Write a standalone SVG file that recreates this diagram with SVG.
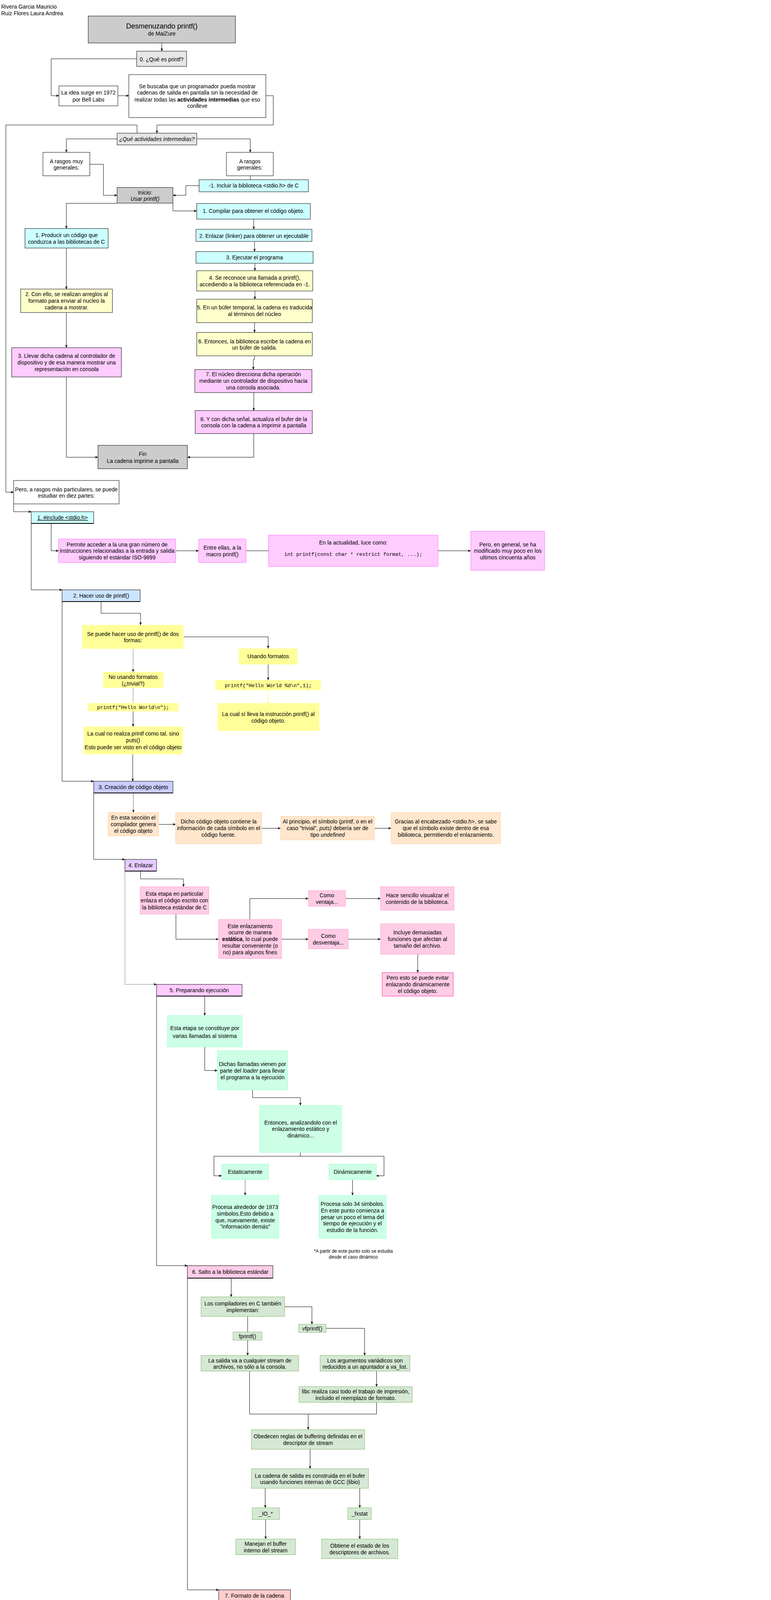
<svg xmlns="http://www.w3.org/2000/svg" width="1975" height="6702" viewBox="0 0 1975 6702">
<defs>
<style>
.t{font-family:"Liberation Sans",Arial,Helvetica,sans-serif;font-size:14px;fill:#000;text-anchor:middle}
.m{font-family:"Liberation Mono","Courier New",monospace;font-size:12.8px;fill:#000;text-anchor:middle}
.k{stroke:#000;stroke-width:1}
.c{fill:none;stroke:#000;stroke-width:1;marker-end:url(#a)}
.n{fill:none;stroke:#000;stroke-width:1}
.cy{fill:#ccffff}.ye{fill:#ffffcc}.pk{fill:#ffccff}.gr{fill:#cccccc}.lg{fill:#e6e6e6}
.p1{fill:#ffccff;stroke:#ff66ff;stroke-width:1}
.y2{fill:#ffff99}
.o3{fill:#ffe6cc;stroke:#ffcc99;stroke-width:1}
.p4{fill:#ffcce6;stroke:#ff99cc;stroke-width:1}
.g5{fill:#ccffe6;stroke:#99ffcc;stroke-width:1}
.g6{fill:#d5e8d4;stroke:#82b366;stroke-width:1}
.b7{fill:#b0e3e6;stroke:#0e8088;stroke-width:1}
.v8{fill:#d0cee2;stroke:#56517e;stroke-width:1}
.o9{fill:#fad7ac;stroke:#b46504;stroke-width:1}
.y10{fill:#ffff88;stroke:#36393d;stroke-width:1}
.r11{fill:#f8cecc;stroke:#b85450;stroke-width:1}
</style>
<marker id="a" viewBox="0 0 10 10" refX="9.5" refY="5" markerWidth="8" markerHeight="8" markerUnits="userSpaceOnUse" orient="auto"><path d="M0,1 L10,5 L0,9 L3,5 Z" fill="#000"/></marker>
<marker id="ay" viewBox="0 0 10 10" refX="9.5" refY="5" markerWidth="8" markerHeight="8" markerUnits="userSpaceOnUse" orient="auto"><path d="M0,1 L10,5 L0,9 L3,5 Z" fill="#ffff66"/></marker>
</defs>
<rect x="0" y="0" width="1975" height="6702" fill="#ffffff"/>

<g id="authors">
<text class="t" style="text-anchor:start" x="3" y="22">Rivera Garcia Mauricio</text>
<text class="t" style="text-anchor:start" x="3" y="39">Ruiz Flores Laura Andrea</text>
</g>

<g id="connectors">
<path class="c" d="M414.5,110 V131"/>
<path class="c" d="M350,150.5 H131 V245 H151"/>
<path class="c" d="M302,245 H330"/>
<path class="c" d="M681,245 H700 V320 H402 V341"/>
<path class="c" d="M351,341 V320 H15 V1260 H35"/>
<path class="c" d="M300,355.5 H170 V390"/>
<path class="c" d="M504,355.5 H641 V390"/>
<path class="c" d="M230,420.6 H265 V500 H300"/>
<path class="n" d="M641,450 V460"/>
<path class="c" d="M510,475.3 H476 V500 H443"/>
<path class="c" d="M300,520.5 H170 V585"/>
<path class="c" d="M443,520.5 V540 H504"/>
<path class="c" d="M650,561 V587"/>
<path class="c" d="M652,618 V644"/>
<path class="c" d="M653,674.5 V693"/>
<path class="c" d="M653,745 V766"/>
<path class="c" d="M652,826 V851"/>
<path class="c" d="M652,911 V920 H649 V946"/>
<path class="c" d="M650,1005 V1051"/>
<path class="c" d="M650,1110 V1170.5 H480"/>
<path class="c" d="M170,635.5 V740"/>
<path class="c" d="M170,800.4 V890"/>
<path class="c" d="M170,965.4 V1170.5 H251"/>

<path class="c" d="M35,1290 V1310 H80"/>
<path class="c" d="M131,1340 V1410 H150"/>
<path class="c" d="M450,1410 H509"/>
<path class="n" d="M630,1410 H688"/>
<path class="c" d="M1122,1410 H1206"/>
<path class="c" d="M80,1340 V1510 H159"/>

<path class="c" d="M259,1540 V1570 H360 V1600"/>
<path class="c" d="M471,1630.4 H687 V1660"/>
<path class="c" style="stroke:#808080" d="M341,1661 V1720"/>
<path class="c" d="M687,1701 V1741"/>
<path d="M687,1767 V1800" style="fill:none;stroke:#ffff66;stroke-width:1;marker-end:url(#ay)"/>
<path d="M341,1761 V1800" style="fill:none;stroke:#808080;stroke-width:1;marker-end:url(#ay)"/>
<path class="c" d="M341,1821 V1860"/>
<path class="c" d="M340,1931 V2000"/>
<path class="c" d="M159,1540 V2000 H240"/>

<path class="c" style="stroke:#666666" d="M341.6,2030 V2080"/>
<path class="c" d="M406.7,2110.4 H450"/>
<path class="c" d="M670,2120.4 H719"/>
<path class="c" d="M959,2120.4 H1002"/>
<path class="c" d="M240,2030 V2200 H320"/>

<path class="c" d="M360,2230 V2250 H470 V2270"/>
<path class="c" d="M450.7,2340 V2404.3 H560"/>
<path class="c" d="M640,2354 V2300.3 H790"/>
<path class="c" d="M885,2300.3 H975"/>
<path class="c" d="M721,2404.3 H790"/>
<path class="c" d="M892,2404.3 H975"/>
<path class="c" d="M1070,2443 V2490"/>
<path class="c" style="stroke:#808080" d="M320,2230 V2520 H401"/>

<path class="c" d="M524.4,2550 V2600"/>
<path class="c" d="M524.4,2680 V2740.5 H557"/>
<path class="c" d="M647,2790 V2810 H769.4 V2830"/>
<path class="n" d="M769.4,2950 V2960"/>
<path class="c" d="M769.4,2960 H548 V3010 H568"/>
<path class="c" d="M769.4,2960 H983.7 V3010 H963.6"/>
<path class="c" style="stroke:#555555" d="M628,3020 V3060"/>
<path class="c" d="M903,3020 V3060"/>
<path class="c" d="M401,2550 V3240 H480"/>

<path class="c" d="M592.3,3272.7 V3320"/>
<path class="c" d="M729,3345.4 H799 V3390"/>
<path class="n" d="M634.4,3370.5 V3410"/>
<path class="c" d="M834.4,3400.5 H934 V3470"/>
<path class="c" d="M634.4,3431 V3470"/>
<path class="c" d="M964.6,3510.7 V3550"/>
<path class="n" d="M639.2,3510.7 V3620 H964.6 V3590"/>
<path class="c" d="M789.5,3620 V3660"/>
<path class="c" d="M794.3,3710 V3760"/>
<path class="c" d="M679.4,3810 V3860"/>
<path class="c" d="M921.5,3810 V3860"/>
<path class="c" d="M680.4,3890 V3940"/>
<path class="c" d="M921.5,3890 V3940"/>
<path class="c" d="M480,3272.7 V4070 H560"/>

<path class="c" d="M652.6,4100 V4125 H841 V4150"/>
<path class="c" d="M786.6,4185 V4200 H695.7 V4240"/>
<path class="c" d="M841,4185 V4240"/>
<path class="c" d="M897.6,4185 V4207.7 H994.3 V4230"/>
<path class="c" d="M703,4260.8 V4290"/>
<path class="c" d="M840,4260.8 V4290"/>
<path class="c" d="M994.3,4250.6 V4290"/>
<path class="c" d="M840,4320.8 V4340"/>
<path class="c" d="M838,4370.6 V4390"/>
<path class="c" d="M838,4420.7 V4440"/>
<path class="c" d="M836.4,4470.5 V4490"/>
<path class="c" d="M703,4320.8 V4575.4 H767.5"/>
<path class="c" d="M994.3,4320.8 V4575.4 H905.3"/>
<path class="c" d="M836.4,4590.3 V4610"/>
<path class="c" d="M905.3,4625 H986"/>
<path class="c" d="M836.4,4640 V4660.5"/>
<path class="c" d="M836.4,4690.3 V4710"/>
<path class="c" d="M940,4725 H1020"/>
<path class="c" d="M560,4100 V4830 H640"/>

<path class="c" d="M740.7,4860 V4890 H870 V4920"/>
<path class="c" d="M890,4980.4 V5010"/>
<path class="c" d="M1057.4,5040.4 H1110"/>
<path class="c" d="M1407,5040.4 H1440"/>
<path class="c" d="M890,5070 V5110"/>
<path class="c" d="M890,5160.5 V5200"/>
<path class="c" d="M1060.3,5225.6 H1132"/>
<path class="c" d="M640,4860.4 V5350 H719"/>

<path class="c" d="M841,5390 V5430 H945.5 V5470"/>
<path class="c" d="M1121.5,5490 H1190"/>
<path class="c" d="M1510.6,5490 H1570"/>
<path class="c" d="M1719.5,5490 H1821.5"/>
<path class="c" d="M1645,5510 V5550"/>
<path class="c" d="M945.5,5510 V5590"/>
<path class="c" d="M945.5,5630 V5671"/>
<path class="c" d="M1121,5690 H1201"/>
<path class="c" d="M945.3,5710 V5761"/>
<path class="c" d="M1016.4,5780.6 H1201"/>
<path class="c" d="M719,5390 V5870 H803"/>

<path class="c" d="M943,5900 V5926 H1062 V5950"/>
<path class="c" d="M1062,5980.5 V6031"/>
<path class="c" d="M1256.3,6045.5 H1310"/>
<path class="c" d="M1062,6061 V6100"/>
<path class="c" d="M1256.3,6115.5 H1310"/>
<path class="c" d="M1062,6130.5 V6170"/>
<path class="c" d="M1062,6200.2 V6240"/>
<path class="c" d="M1062,6280.4 V6295 H1064 V6310"/>
<path class="c" d="M1260,6335.2 H1310"/>
<path class="c" d="M1063.4,6360.6 V6411"/>
<path class="c" d="M803,5900 V6510.5 H884"/>

<path class="c" d="M994.4,6540.5 V6581"/>
<path class="c" d="M994.4,6611 V6651"/>
</g>

<g id="n-title"><rect x="226" y="41" width="377" height="69" class="gr k"/>
<text class="t" x="414.5" y="72.5" style="font-size:18px">Desmenuzando printf()</text>
<text class="t" x="414.5" y="91">de MaiZure</text></g>
<g id="n-q0"><rect x="350" y="131" width="128" height="39" class="lg k"/>
<text class="t" x="414" y="156.5">0. ¿Qué es printf?</text></g>
<g id="n-idea"><rect x="151" y="220" width="151" height="51" fill="#fff" class="k"/>
<text class="t"><tspan x="226.5" y="242">La idea surge en 1972</tspan><tspan x="226.5" y="259.5">por Bell Labs</tspan></text></g>
<g id="n-busca"><rect x="330" y="191" width="351" height="110" fill="#fff" class="k"/>
<text class="t"><tspan x="505.5" y="226">Se buscaba que un programador pueda mostrar</tspan><tspan x="505.5" y="242">cadenas de salida en pantalla sin la necesidad de</tspan><tspan x="505.5" y="259.5">realizar todas las </tspan><tspan font-weight="bold">actividades intermedias</tspan><tspan> que eso</tspan><tspan x="505.5" y="275.6">conlleve</tspan></text></g>
<g id="n-qact"><rect x="300" y="341" width="204" height="30" class="lg k"/>
<text class="t" x="402" y="360.5" font-style="italic">¿Qué actividades intermedias?</text></g>
<g id="n-muy"><rect x="110" y="390" width="120" height="60" fill="#fff" class="k"/>
<text class="t"><tspan x="170" y="417.5">A rasgos muy</tspan><tspan x="170" y="434">generales:</tspan></text></g>
<g id="n-gen"><rect x="580" y="390" width="120" height="60" fill="#fff" class="k"/>
<text class="t"><tspan x="640" y="417.5">A rasgos</tspan><tspan x="640" y="434">generales:</tspan></text></g>
<g id="n-inicio"><rect x="300" y="480" width="143" height="40" class="gr k"/>
<text class="t"><tspan x="371.5" y="497.5">Inicio:</tspan><tspan x="371.5" y="514" font-style="italic">Usar printf()</tspan></text></g>
<g id="n-m1"><rect x="510" y="460" width="280" height="31" class="cy k"/>
<text class="t" x="650" y="480.3">-1. Incluir la biblioteca &lt;stdio.h&gt; de C</text></g>
<g id="n-comp"><rect x="504" y="521" width="291" height="40" class="cy k"/>
<text class="t" x="649.5" y="545">1. Compilar para obtener el código objeto.</text></g>
<g id="n-prod"><rect x="64" y="585" width="213" height="50" class="cy k"/>
<text class="t"><tspan x="170.5" y="607">1. Producir un código que</tspan><tspan x="170.5" y="623.7">conduzca a las bibliotecas de C</tspan></text></g>
<g id="n-enl"><rect x="502" y="587" width="297" height="31" class="cy" stroke="#808080" stroke-width="2"/>
<text class="t" x="650.5" y="608.7">2. Enlazar (linker) para obtener un ejecutable</text></g>
<g id="n-ejec"><rect x="502" y="644" width="300" height="30" class="cy k"/>
<text class="t" x="652" y="664">3. Ejecutar el programa</text></g>
<g id="n-s4"><rect x="504" y="693" width="297" height="52" class="ye k"/>
<text class="t"><tspan x="652.5" y="716">4. Se reconoce una llamada a printf(),</tspan><tspan x="652.5" y="733">accediendo a la biblioteca referenciada en -1.</tspan></text></g>
<g id="n-s5"><rect x="504" y="766" width="296" height="60" class="ye k"/>
<text class="t"><tspan x="652" y="792.4">5. En un búfer temporal, la cadena es traducida</tspan><tspan x="652" y="809">al términos del núcleo</tspan></text></g>
<g id="n-s6"><rect x="504" y="851" width="296" height="60" class="ye k"/>
<text class="t"><tspan x="652" y="878.5">6. Entonces, la biblioteca escribe la cadena en</tspan><tspan x="652" y="895">un búfer de salida.</tspan></text></g>
<g id="n-s7"><rect x="499" y="946" width="300" height="59" class="pk k"/>
<text class="t"><tspan x="649" y="963">7. El núcleo direcciona dicha operación</tspan><tspan x="649" y="980">mediante un controlador de dispositivo hacia</tspan><tspan x="649" y="997">una consola asociada.</tspan></text></g>
<g id="n-s8"><rect x="500" y="1051" width="300" height="59" class="pk k"/>
<text class="t"><tspan x="650" y="1077.5">8. Y con dicha señal, actualiza el bufer de la</tspan><tspan x="650" y="1094">consola con la cadena a imprimir a pantalla</tspan></text></g>
<g id="n-con"><rect x="53" y="740" width="235" height="60" class="ye k"/>
<text class="t"><tspan x="170.5" y="758.4">2. Con ello, se realizan arreglos al</tspan><tspan x="170.5" y="775.2">formato para enviar al nucleo la</tspan><tspan x="170.5" y="792">cadena a mostrar.</tspan></text></g>
<g id="n-lle"><rect x="30" y="890" width="281" height="75" class="pk k"/>
<text class="t"><tspan x="170.5" y="916.4">3. Llevar dicha cadena al controlador de</tspan><tspan x="170.5" y="933.3">dispositivo y de esa manera mostrar una</tspan><tspan x="170.5" y="950">representación en consola</tspan></text></g>
<g id="n-fin"><rect x="251" y="1140" width="229" height="60" class="gr k"/>
<text class="t"><tspan x="365.5" y="1166.7">Fin</tspan><tspan x="365.5" y="1184.6">La cadena imprime a pantalla</tspan></text></g>

<g id="n-pero"><rect x="35" y="1230" width="270" height="60" fill="#fff" class="k"/>
<text class="t"><tspan x="170" y="1258">Pero, a rasgos más particulares, se puede</tspan><tspan x="170" y="1274.3">estudiar en diez partes:</tspan></text></g>
<g id="n-h1"><rect x="80" y="1310" width="160" height="30" class="cy k"/><path d="M80,1340 H240" stroke="#000" stroke-width="2"/>
<text class="t" x="160" y="1330.4" text-decoration="underline">1. #include &lt;stdio.h&gt;</text></g>
<g id="n-perm"><rect x="150" y="1380" width="300" height="60" class="p1"/>
<text class="t"><tspan x="300" y="1398.6">Permite acceder a la una gran número de</tspan><tspan x="300" y="1415.4">instrucciones relacionadas a la entrada y salida</tspan><tspan x="300" y="1432.1">siguiendo el estándar ISO-9899</tspan></text></g>
<g id="n-entre"><rect x="509" y="1380" width="121" height="60" class="p1"/>
<text class="t"><tspan x="569.5" y="1407">Entre ellas, a la</tspan><tspan x="569.5" y="1424.3">macro printf()</tspan></text></g>
<g id="n-actual"><rect x="688" y="1370" width="434" height="80" class="p1"/>
<text class="t" x="905" y="1393.6">En la actualidad, luce como:</text>
<text class="m" x="905" y="1423">int printf(const char * restrict format, ...);</text></g>
<g id="n-general"><rect x="1206" y="1360" width="189" height="100" class="p1"/>
<text class="t"><tspan x="1300.5" y="1398.6">Pero, en general, se ha</tspan><tspan x="1300.5" y="1415.4">modificado muy poco en los</tspan><tspan x="1300.5" y="1432">ultimos cincuenta años</tspan></text></g>

<g id="n-h2"><rect x="159" y="1510" width="200" height="30" fill="#cce5ff" class="k"/><path d="M159,1540 H359" stroke="#000" stroke-width="2"/>
<text class="t" x="259" y="1530.4">2. Hacer uso de printf()</text></g>
<g id="n-dos"><rect x="210" y="1600" width="260" height="61" class="y2"/>
<text class="t"><tspan x="340.5" y="1627.5">Se puede hacer uso de printf() de dos</tspan><tspan x="340.5" y="1644">formas:</tspan></text></g>
<g id="n-usando"><rect x="612" y="1660" width="150" height="41" class="y2"/>
<text class="t" x="687" y="1685">Usando formatos</text></g>
<g id="n-nous"><rect x="264" y="1720" width="154" height="41" class="y2"/>
<text class="t"><tspan x="341" y="1737.5">No usando formatos</tspan><tspan x="341" y="1754.6">(¿trivial?)</tspan></text></g>
<g id="n-pf2"><rect x="552" y="1741" width="270" height="26" class="y2"/>
<text class="m" x="687" y="1758.5">printf("Hello World %d\n",1);</text></g>
<g id="n-sicual"><rect x="557" y="1800" width="261" height="71" class="y2"/>
<text class="t"><tspan x="687.5" y="1833">La cual sí lleva la instrucción printf() al</tspan><tspan x="687.5" y="1849.6">código objeto.</tspan></text></g>
<g id="n-pf1"><rect x="225" y="1800" width="232" height="21" class="y2"/>
<text class="m" x="341" y="1814.5">printf("Hello World\n");</text></g>
<g id="n-nocual"><rect x="214" y="1860" width="254" height="71" class="y2"/>
<text class="t"><tspan x="341" y="1883.2">La cual no realiza printf como tal, sino</tspan><tspan x="341" y="1900.4">puts()</tspan><tspan x="341" y="1917.5">Esto puede ser visto en el código objeto</tspan></text></g>

<g id="n-h3"><rect x="240" y="2000" width="203" height="30" fill="#ccccff" class="k"/><path d="M240,2030 H443" stroke="#000" stroke-width="2"/>
<text class="t" x="341.5" y="2020.4">3. Creación de código objeto</text></g>
<g id="n-esta3"><rect x="277" y="2080" width="129" height="60" class="o3"/>
<text class="t"><tspan x="341.5" y="2098.2">En esta sección el</tspan><tspan x="341.5" y="2115.4">compilador genera</tspan><tspan x="341.5" y="2132">el código objeto</tspan></text></g>
<g id="n-dicho"><rect x="450" y="2080" width="220" height="80" class="o3"/>
<text class="t"><tspan x="560" y="2108.2">Dicho código objeto contiene la</tspan><tspan x="560" y="2125.4">información de cada símbolo en el</tspan><tspan x="560" y="2142">código fuente.</tspan></text></g>
<g id="n-alpri"><rect x="719" y="2090" width="240" height="60" class="o3"/>
<text class="t"><tspan x="839" y="2108.2">Al principio, el símbolo (</tspan><tspan font-style="italic">printf</tspan><tspan>, o en el</tspan><tspan x="839" y="2125.4">caso "trivial", </tspan><tspan font-style="italic">puts)</tspan><tspan> debería ser de</tspan><tspan x="839" y="2142">tipo </tspan><tspan font-style="italic">undefined</tspan></text></g>
<g id="n-gracias"><rect x="1002" y="2080" width="280" height="80" class="o3"/>
<text class="t"><tspan x="1142" y="2108.2">Gracias al encabezado &lt;stdio.h&gt;, se sabe</tspan><tspan x="1142" y="2125.4">que el símbolo existe dentro de esa</tspan><tspan x="1142" y="2142">biblioteca, permitiendo el enlazamiento.</tspan></text></g>

<g id="n-h4"><rect x="320" y="2200" width="81" height="30" fill="#e5ccff" class="k"/><path d="M320,2230 H401" stroke="#000" stroke-width="2"/>
<text class="t" x="360.5" y="2220">4. Enlazar</text></g>
<g id="n-etapa4"><rect x="359" y="2270" width="176" height="70" class="p4"/>
<text class="t"><tspan x="447" y="2293.4">Esta etapa en particular</tspan><tspan x="447" y="2310.4">enlaza el código escrito con</tspan><tspan x="447" y="2327.5">la biblioteca estándar de C</tspan></text></g>
<g id="n-esteenl"><rect x="560" y="2354" width="161" height="100" class="p4"/>
<text class="t"><tspan x="640.5" y="2376.2">Este enlazamiento</tspan><tspan x="640.5" y="2392.2">ocurre de manera</tspan><tspan x="640.5" y="2409.3" font-weight="bold">estática</tspan><tspan>, lo cual puede</tspan><tspan x="640.5" y="2426.4">resultar conveniente (o</tspan><tspan x="640.5" y="2443.1">no) para algunos fines</tspan></text></g>
<g id="n-ventaja"><rect x="790" y="2280" width="95" height="40" class="p4"/>
<text class="t"><tspan x="837.5" y="2297.4">Como</tspan><tspan x="837.5" y="2314">ventaja...</tspan></text></g>
<g id="n-sencillo"><rect x="975" y="2270" width="188" height="60" class="p4"/>
<text class="t"><tspan x="1069" y="2297.4">Hace sencillo visualizar el</tspan><tspan x="1069" y="2314">contenido de la biblioteca.</tspan></text></g>
<g id="n-desv"><rect x="790" y="2379" width="102" height="50" class="p4"/>
<text class="t"><tspan x="841" y="2401.3">Como</tspan><tspan x="841" y="2418.4">desventaja...</tspan></text></g>
<g id="n-incluye"><rect x="975" y="2365" width="189" height="78" class="p4"/>
<text class="t"><tspan x="1069.5" y="2392.2">Incluye demasiadas</tspan><tspan x="1069.5" y="2409.3">funciones que afectan al</tspan><tspan x="1069.5" y="2426.4">tamaño del archivo.</tspan></text></g>
<g id="n-evitar"><rect x="979" y="2490" width="182" height="60" fill="#ffcce6" stroke="#ff66b3" stroke-width="1.5"/>
<text class="t"><tspan x="1070" y="2508.2">Pero esto se puede evitar</tspan><tspan x="1070" y="2525.3">enlazando dinámicamente</tspan><tspan x="1070" y="2542.4">el código objeto.</tspan></text></g>

<g id="n-h5"><rect x="401" y="2520" width="219" height="30" class="pk k"/><path d="M401,2550 H620" stroke="#000" stroke-width="2"/>
<text class="t" x="510.5" y="2540.2">5. Preparando ejecución</text></g>
<g id="n-etapa5"><rect x="429" y="2600" width="191" height="80" class="g5"/>
<text class="t"><tspan x="524.5" y="2636.5">Esta etapa se constituye por</tspan><tspan x="524.5" y="2656.5">varias llamadas al sistema</tspan></text></g>
<g id="n-dichas"><rect x="557" y="2690" width="180" height="100" class="g5"/>
<text class="t"><tspan x="647" y="2728.5">Dichas llamadas vienen por</tspan><tspan x="647" y="2745.5">parte del </tspan><tspan font-style="italic">loader</tspan><tspan> para llevar</tspan><tspan x="647" y="2762.6">el programa a la ejecución</tspan></text></g>
<g id="n-entonces"><rect x="665" y="2830" width="210" height="120" class="g5"/>
<text class="t"><tspan x="770" y="2878.6">Entonces, analizandolo con el</tspan><tspan x="770" y="2895.3">enlazamiento estático y</tspan><tspan x="770" y="2912">dinámico...</tspan></text></g>
<g id="n-estat"><rect x="568" y="2980" width="120" height="40" class="g5"/>
<text class="t" x="628" y="3005">Estaticamente</text></g>
<g id="n-dinam"><rect x="843" y="2980" width="121" height="40" class="g5"/>
<text class="t" x="903.5" y="3005">Dinámicamente</text></g>
<g id="n-proc1"><rect x="542" y="3060" width="172" height="110" class="g5"/>
<text class="t"><tspan x="628" y="3095.3">Procesa alrededor de 1873</tspan><tspan x="628" y="3112.4">simbolos.Esto debido a</tspan><tspan x="628" y="3129.4">que, nuevamente, existe</tspan><tspan x="628" y="3145.1">"información demás"</tspan></text></g>
<g id="n-proc2"><rect x="817" y="3060" width="172" height="110" class="g5"/>
<text class="t"><tspan x="903" y="3086.9">Procesa solo 34 simbolos.</tspan><tspan x="903" y="3103.6">En este punto comienza a</tspan><tspan x="903" y="3120.7">pesar un poco el tema del</tspan><tspan x="903" y="3137.4">tiempo de ejecución y el</tspan><tspan x="903" y="3154.2">estudio de la función.</tspan></text></g>
<g id="n-nota"><text class="t" style="font-size:12px"><tspan x="905" y="3207">*A partir de este punto solo se estudia</tspan><tspan x="905" y="3222">desde el caso dinámico</tspan></text></g>

<g id="n-h6"><rect x="480" y="3240" width="219" height="32" fill="#ffcce6" class="k"/><path d="M480,3272 H699" stroke="#000" stroke-width="2"/>
<text class="t" x="590" y="3261.4">6. Salto a la biblioteca estándar</text></g>
<g id="n-compi"><rect x="515" y="3320" width="214" height="50" class="g6"/>
<text class="t"><tspan x="622" y="3342">Los compiladores en C también</tspan><tspan x="622" y="3358.8">implementan:</tspan></text></g>
<g id="n-vfp"><rect x="765" y="3390" width="70" height="21" class="g6"/>
<text class="t" x="800" y="3405.5">vfprintf()</text></g>
<g id="n-fp"><rect x="597" y="3410" width="74" height="21" class="g6"/>
<text class="t" x="634" y="3426">fprintf()</text></g>
<g id="n-salida"><rect x="515" y="3470" width="250" height="40" class="g6"/>
<text class="t"><tspan x="640" y="3487.7">La salida va a cualquier stream de</tspan><tspan x="640" y="3504.4">archivos, no sólo a la consola.</tspan></text></g>
<g id="n-args"><rect x="820" y="3470" width="230" height="40" class="g6"/>
<text class="t"><tspan x="935" y="3487.7">Los argumentos variádicos son</tspan><tspan x="935" y="3504.4">reducidos a un apuntador a va_list.</tspan></text></g>
<g id="n-libc"><rect x="766" y="3550" width="290" height="40" class="g6"/>
<text class="t"><tspan x="911" y="3567.3">libc realiza casi todo el trabajo de impresión,</tspan><tspan x="911" y="3584">incluido el reemplazo de formato.</tspan></text></g>
<g id="n-obed"><rect x="644" y="3660" width="290" height="50" class="g6"/>
<text class="t"><tspan x="789" y="3682.2">Obedecen reglas de buffering definidas en el</tspan><tspan x="789" y="3699.3">descriptor de stream</tspan></text></g>
<g id="n-cadsal"><rect x="644" y="3760" width="300" height="50" class="g6"/>
<text class="t"><tspan x="794" y="3782.5">La cadena de salida es construida en el bufer</tspan><tspan x="794" y="3799.2">usando funciones internas de GCC (libio)</tspan></text></g>
<g id="n-io"><rect x="646" y="3860" width="70" height="30" class="g6"/>
<text class="t" x="681" y="3880.3">_IO_*</text></g>
<g id="n-fx"><rect x="891" y="3860" width="60" height="30" class="g6"/>
<text class="t" x="921" y="3880.3">_fxstat</text></g>
<g id="n-manej"><rect x="604" y="3940" width="153" height="40" class="g6"/>
<text class="t"><tspan x="680.5" y="3956.6">Manejan el buffer</tspan><tspan x="680.5" y="3974.3">interno del stream</tspan></text></g>
<g id="n-obt"><rect x="824" y="3940" width="195" height="50" class="g6"/>
<text class="t"><tspan x="921.5" y="3962.3">Obtiene el estado de los</tspan><tspan x="921.5" y="3979.4">descriptores de archivos.</tspan></text></g>

<g id="n-h7"><rect x="560" y="4070" width="184" height="30" fill="#ffcccc" class="k"/>
<text class="t" x="652" y="4090.2">7. Formato de la cadena</text></g>
<g id="n-hay"><rect x="729" y="4150" width="224" height="35" class="b7"/>
<text class="t" x="841" y="4173.1">Hay tres secciones de la cadena</text></g>
<g id="n-hw"><rect x="655" y="4240" width="95" height="20" class="b7"/>
<text class="t" x="702.5" y="4255.3">'Hello World'</text></g>
<g id="n-pd"><rect x="815" y="4240" width="50" height="20" class="b7"/>
<text class="t" x="840" y="4255.3">%d</text></g>
<g id="n-bn"><rect x="969" y="4230" width="50" height="20" class="b7"/>
<text class="t" x="994" y="4245.6">\n</text></g>
<g id="n-put1"><rect x="662" y="4290" width="81" height="30" class="b7"/>
<text class="t" x="702.5" y="4310.1">put simple</text></g>
<g id="n-sust"><rect x="772" y="4290" width="137" height="30" class="b7"/>
<text class="t" x="840.5" y="4310.1">Sustituye el entero 1</text></g>
<g id="n-put2"><rect x="953" y="4290" width="82" height="30" class="b7"/>
<text class="t" x="994" y="4310.1">put simple</text></g>
<g id="n-conv"><rect x="771" y="4340" width="137" height="30" class="b7"/>
<text class="t" x="839.5" y="4360">Convierte en entero</text></g>
<g id="n-itoa"><rect x="769" y="4390" width="137" height="30" class="b7"/>
<text class="m" x="837.5" y="4409.5">in _itoa_word ()</text></g>
<g id="n-buf1"><rect x="767" y="4440" width="138" height="30" class="b7"/>
<text class="m" x="836" y="4459.5">Bufferea '1'</text></g>
<g id="n-xs1"><rect x="733" y="4490" width="207" height="30" class="b7"/>
<text class="m" x="836.5" y="4509.5">in _IO_new_file_xsputn ()</text></g>
<g id="n-esc"><rect x="767" y="4560" width="138" height="30" class="b7"/>
<text class="t" x="836" y="4580.4">Escanea la cadena</text></g>
<g id="n-strch"><rect x="767" y="4610" width="138" height="30" class="b7"/>
<text class="m" x="836" y="4629.5">in strchrnul ()</text></g>
<g id="n-encu"><rect x="986" y="4603" width="229" height="45" fill="#b0e3e6" stroke="#5fa8ad" stroke-width="2"/>
<text class="t"><tspan x="1100.5" y="4622.6">Encuentra el próximo '%' o el final</tspan><tspan x="1100.5" y="4639.7">de la cadena.</tspan></text></g>
<g id="n-buf2"><rect x="757" y="4660" width="159" height="30" class="b7"/>
<text class="m" x="836.5" y="4679.5">Bufferea la cadena</text></g>
<g id="n-xs2"><rect x="733" y="4710" width="207" height="30" class="b7"/>
<text class="m" x="836.5" y="4729.5">in _IO_new_file_xsputn ()</text></g>
<g id="n-requ"><rect x="1020" y="4700" width="277" height="50" class="b7"/>
<text class="t"><tspan x="1158.5" y="4722.2">Requiere que vfprintf() encuentre el inicio</tspan><tspan x="1158.5" y="4739.3">de la cadena y el tamaño.</tspan></text></g>

<g id="n-h8"><rect x="640" y="4830" width="200" height="30" fill="#ffe6cc" class="k"/><path d="M640,4860 H840" stroke="#000" stroke-width="2"/>
<text class="t" x="740" y="4849.8">8. Escritura en salida estándar</text></g>
<g id="n-sigue"><rect x="767" y="4920" width="245" height="60" class="v8"/>
<text class="t"><tspan x="890" y="4947.2">Sigue los eventos que dirigen a la</tspan><tspan x="890" y="4964.3">llamada del sistema del kernel.</tspan></text></g>
<g id="n-cadfmt"><rect x="724" y="5010" width="333" height="60" class="v8"/>
<text class="t"><tspan x="890.5" y="5037">La cadena formateada se encuentra en el buffer</tspan><tspan x="890.5" y="5053.7">como parte del stream del archivo stdout.</tspan></text></g>
<g id="n-abi"><rect x="1110" y="5015" width="297" height="50" class="v8"/>
<text class="t"><tspan x="1258.5" y="5037">La conexión entre el compilador y el sistema</tspan><tspan x="1258.5" y="5053.7">operativo es el ABI.</tspan></text></g>
<g id="n-dep"><rect x="1440" y="5025" width="223" height="30" class="v8"/>
<text class="t" x="1551.5" y="5045">Dependiente de la arquitectura.</text></g>
<g id="n-stdout"><rect x="748" y="5110" width="284" height="50" class="v8"/>
<text class="t"><tspan x="890" y="5132.4">stdout eventualmente recurre a la llamada al</tspan><tspan x="890" y="5149.2">sistema 'write'</tspan></text></g>
<g id="n-write"><rect x="720" y="5200" width="340" height="50" class="v8"/>
<text class="t" x="890" y="5230.6">'Write' comprueba el estado de subprocesamiento.</text></g>
<g id="n-mueve"><rect x="1132" y="5200" width="308" height="50" class="v8"/>
<text class="t"><tspan x="1286" y="5222.2">Mueve el número de la llamada del sistema write</tspan><tspan x="1286" y="5239.3">en el registro EAX y entra al kernel.</tspan></text></g>

<g id="n-h9"><rect x="719" y="5350" width="245" height="40" class="ye k"/><path d="M719,5390 H964" stroke="#000" stroke-width="2"/>
<text class="t"><tspan x="841.5" y="5366.9">9. De una llamada al sistema al</tspan><tspan x="841.5" y="5384.3">controlador de dispositivo</tspan></text></g>
<g id="n-muestra"><rect x="769" y="5470" width="352" height="40" class="o9"/>
<text class="t"><tspan x="945" y="5487.2">Muestra los pasos de ejecución desde la llamada al</tspan><tspan x="945" y="5504.3">sistema al controlador.</tspan></text></g>
<g id="n-script"><rect x="1190" y="5470" width="320" height="40" class="o9"/>
<text class="t" x="1350" y="5495">Se realiza un script corto que activa el rastreo.</text></g>
<g id="n-ejecuta"><rect x="1570" y="5470" width="149" height="40" class="o9"/>
<text class="t" x="1644.5" y="5495">Ejecuta el programa.</text></g>
<g id="n-desact"><rect x="1821" y="5470" width="153" height="40" class="o9"/>
<text class="t" x="1897.5" y="5495">Desactiva el rastreo.</text></g>
<g id="n-produce"><rect x="1468" y="5550" width="353" height="40" class="o9"/>
<text class="t"><tspan x="1644.5" y="5567.3">La ejecución produce decenas o miles de líneas de</tspan><tspan x="1644.5" y="5584.3">actividad del kernel en milisegundos.</tspan></text></g>
<g id="n-pseudo"><rect x="769" y="5590" width="352" height="40" class="o9"/>
<text class="t"><tspan x="945" y="5607.5">Las pseudoterminales tienen un lado "master" y un lado</tspan><tspan x="945" y="5623.9">"slave".</tspan></text></g>
<g id="n-tty"><rect x="769" y="5671" width="352" height="39" class="o9"/>
<text class="t" x="945" y="5695">El controlador TTY le da funcionalidad al "slave"</text></g>
<g id="n-master"><rect x="1201" y="5671" width="353" height="39" class="o9"/>
<text class="t" x="1377.5" y="5695">El "master" es controlado por un proceso terminal.</text></g>
<g id="n-ptyw"><rect x="874" y="5761" width="142" height="40" class="o9"/>
<text class="m" x="945" y="5784.5">pty_write()</text></g>
<g id="n-invoca"><rect x="1201" y="5761" width="369" height="40" class="o9"/>
<text class="t"><tspan x="1385.5" y="5776.9">Invoca operaciones tty_* que mueven la cadena a la</tspan><tspan x="1385.5" y="5793.9">consola.</tspan></text></g>

<g id="n-h10"><rect x="803" y="5870" width="280" height="30" fill="#e6ffcc" stroke="#36393d" stroke-width="1"/>
<text class="t" x="943" y="5889.7">10. Actualización al buffer de la consola</text></g>
<g id="n-coloca"><rect x="892" y="5950" width="340" height="30" class="y10"/>
<text class="t" x="1062" y="5970">Coloca la cadena en la consola unida a stdout.</text></g>
<g id="n-hacer"><rect x="868" y="6031" width="388" height="30" class="y10"/>
<text class="t" x="1062" y="6050.5">Hacer uso de la estructura que contiene a la consola.</text></g>
<g id="n-struct"><rect x="1310" y="6031" width="194" height="30" class="y10"/>
<text class="m" x="1407" y="6050">struct tty_struct *tty</text></g>
<g id="n-copia"><rect x="868" y="6100" width="388" height="30" class="y10"/>
<text class="t" x="1062" y="6120.5">La cadena se copia en la cola de entrada</text></g>
<g id="n-flip"><rect x="1310" y="6100" width="314" height="30" class="y10"/>
<text class="m" x="1467" y="6120">tty_insert_flip_string_fixed_flag()</text></g>
<g id="n-mueven"><rect x="868" y="6170" width="388" height="30" class="y10"/>
<text class="t" x="1062" y="6190">Se mueven los datos y las banderas al 'flip buffer' actual.</text></g>
<g id="n-estado"><rect x="868" y="6240" width="388" height="40" class="y10"/>
<text class="t"><tspan x="1062" y="6256.7">El estado de la consola está actualizado y se realiza un push</tspan><tspan x="1062" y="6273.7">al buffer.</tspan></text></g>
<g id="n-linea"><rect x="868" y="6310" width="392" height="50" class="y10"/>
<text class="t"><tspan x="1064" y="6331.7">La línea 'discipline' es notificada y añade la nueva cadena a la</tspan><tspan x="1064" y="6348.6">ventana de salida.</tspan></text></g>
<g id="n-wake"><rect x="1310" y="6316" width="144" height="40" class="y10"/>
<text class="m" x="1382" y="6340">tty_wakeup()</text></g>
<g id="n-ptm"><rect x="968" y="6411" width="192" height="40" class="y10"/>
<text class="t" x="1064" y="6435">El PT master lo procesa.</text></g>

<g id="n-h11"><rect x="884" y="6510" width="221" height="30" fill="#ccffcc" stroke="#000" stroke-width="1.5"/>
<text class="t" x="994.5" y="6530.5">11. Cadena impresa</text></g>
<g id="n-result"><rect x="884" y="6581" width="221" height="30" class="r11"/>
<text class="t" x="994.5" y="6600.5">Resultado final</text></g>
<g id="n-output"><rect x="884" y="6651" width="221" height="40" class="r11"/>
<text class="m"><tspan x="994.5" y="6665.5">$ ./printf1_s</tspan><tspan x="994.5" y="6683">Hello World 1</tspan></text></g>
</svg>
